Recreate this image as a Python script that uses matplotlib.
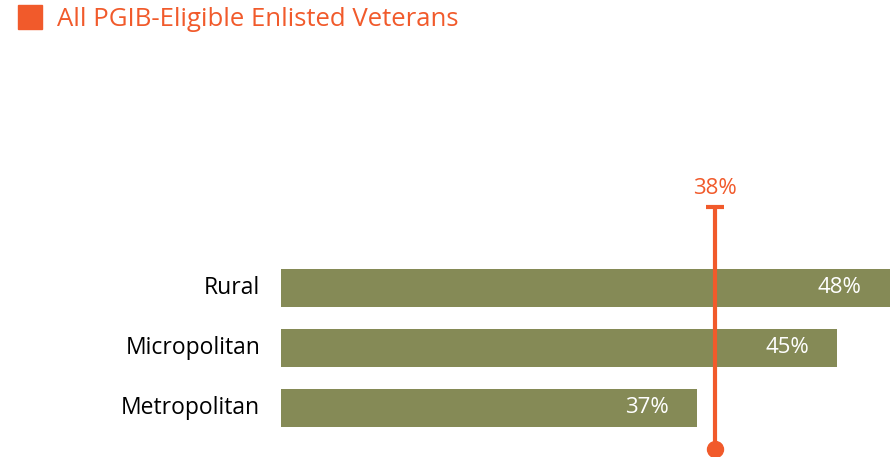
import matplotlib.pyplot as plt
import matplotlib.patches as patches

# Share of veterans by area type
categories = ["Metropolitan", "Micropolitan", "Rural"]
values = [37, 45, 48]
overall_label = "All PGIB-Eligible Enlisted Veterans"
overall_value = 38

olive = "#858a56"
orange = "#f15a2b"

plt.rcParams["font.family"] = ["Open Sans", "DejaVu Sans"]

fig = plt.figure(figsize=(8.95, 4.57), dpi=100)
W, H = 895, 457

# axes placed in pixel terms: left edge where bars start, right edge at figure edge
ax = fig.add_axes([281 / W, 0, 1 - 281 / W, (457 - 160) / H])
ax.set_xlim(13.23, 48.31)
ax.set_ylim(-0.817, 4.133)

ypos = list(range(len(categories)))
ax.barh(ypos, values, height=0.633, color=olive, left=0)
for y, v in zip(ypos, values):
    ax.text(v - 1.6, y, f"{v}%", color="white", ha="right", va="center",
            fontsize=16)

ax.set_yticks(ypos)
ax.set_yticklabels(categories, fontsize=16.5, va="center")
ax.tick_params(axis="y", length=0, pad=15)
ax.set_xticks([])
for s in ax.spines.values():
    s.set_visible(False)

# overall reference line with cap on top and dot at the bottom
top, bottom = 3.35, -0.683
ax.plot([overall_value, overall_value], [bottom, top], color=orange, lw=3,
        solid_capstyle="butt", zorder=3, clip_on=False)
ax.plot([overall_value], [top], marker="_", markersize=13, mew=3,
        color=orange, zorder=3, clip_on=False)
ax.plot([overall_value], [bottom], marker="o", markersize=11.5, color=orange,
        zorder=3, clip_on=False)
ax.text(overall_value, 3.66, f"{overall_value}%", color=orange, ha="center",
        va="center", fontsize=16)

# legend square and title
fig.patches.append(patches.Rectangle((18 / W, 1 - 29 / H), 24 / W, 24 / H,
                                     color=orange, transform=fig.transFigure))
fig.text(57 / W, 1 - 19 / H, overall_label, color=orange, fontsize=18.5,
         ha="left", va="center")

fig.savefig("out.png", dpi=100)
